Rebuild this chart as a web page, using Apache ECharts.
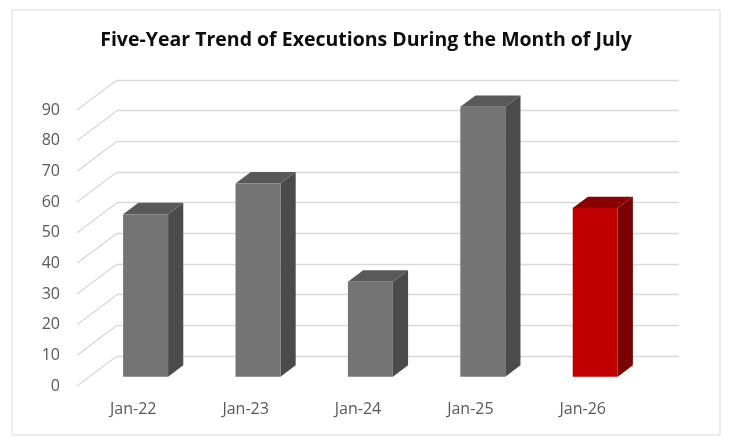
<!DOCTYPE html>
<html>
<head>
<meta charset="utf-8">
<script src="https://cdn.jsdelivr.net/npm/echarts@6/dist/echarts.min.js"></script>
<style>
  html, body { margin: 0; padding: 0; background: #fff; }
  #chart { width: 732px; height: 442px; }
</style>
</head>
<body>
<div id="chart"></div>
<script>
// chart data
const years = ['Jan-22', 'Jan-23', 'Jan-24', 'Jan-25', 'Jan-26'];
const executions = [53, 63, 31, 88, 55];
const yTicks = [0, 10, 20, 30, 40, 50, 60, 70, 80, 90];

// fake 3d settings (pixels)
const depth = [40, -30];
const grayFaces = { front: '#747474', side: '#4b4b4b', top: '#595959' };
const redFaces = { front: '#c00000', side: '#7a0000', top: '#8b0000' };

const chart = echarts.init(document.getElementById('chart'));

// diagonal floor/wall lines at each tick
function renderDiagonal(params, api) {
    const y = api.coord([0, api.value(1)])[1];
    const x0 = params.coordSys.x;
    return {
        type: 'line',
        shape: { x1: x0, y1: y, x2: x0 + depth[0], y2: y + depth[1] },
        style: { stroke: '#d9d9d9', lineWidth: 1.3 }
    };
}

// 3d looking bar: front, side and top faces
function renderBar(params, api) {
    const idx = api.value(0);
    const base = api.coord([idx, 0]);
    const top = api.coord([idx, api.value(1)]);
    const band = api.size([1, 0])[0];
    const w = band * 0.4;
    // bar sits a bit back from the front of the floor
    const ox = depth[0] * 0.31, oy = depth[1] * 0.31;
    const dx = depth[0] * 0.38, dy = depth[1] * 0.38;
    const x1 = base[0] + ox - w / 2;
    const x2 = x1 + w;
    const yb = base[1] + oy;
    const yt = top[1] + oy;
    const faces = idx === years.length - 1 ? redFaces : grayFaces;
    return {
        type: 'group',
        children: [
            {
                type: 'polygon',
                shape: { points: [[x2, yb], [x2 + dx, yb + dy], [x2 + dx, yt + dy], [x2, yt]] },
                style: { fill: faces.side }
            },
            {
                type: 'polygon',
                shape: { points: [[x1, yt], [x2, yt], [x2 + dx, yt + dy], [x1 + dx, yt + dy]] },
                style: { fill: faces.top }
            },
            {
                type: 'rect',
                shape: { x: x1, y: yt, width: w, height: yb - yt },
                style: { fill: faces.front }
            }
        ]
    };
}

const option = {
    backgroundColor: '#fff',
    animation: false,
    title: {
        text: 'Five-Year Trend of Executions During the Month of July',
        left: 'center',
        top: 25,
        textStyle: { fontFamily: 'Open Sans', fontWeight: 'bold', fontSize: 19.5, color: '#0d0d0d' }
    },
    graphic: [{
        type: 'rect',
        shape: { x: 12, y: 10, width: 708, height: 425 },
        style: { fill: 'none', stroke: '#d9d9d9', lineWidth: 1 },
        silent: true
    }],
    grid: [
        { left: 77, right: 93, top: 110, bottom: 56 },   // front plane
        { left: 117, right: 53, top: 80, bottom: 86 }    // back wall
    ],
    xAxis: [
        {
            type: 'category', gridIndex: 0, data: years,
            axisLine: { show: false }, axisTick: { show: false },
            axisLabel: { margin: 15, fontFamily: 'Open Sans', fontSize: 16, color: '#595959' }
        },
        { type: 'category', gridIndex: 1, data: years, show: false }
    ],
    yAxis: [
        {
            type: 'value', gridIndex: 0, min: 0, max: 90, interval: 10,
            axisLine: { show: false }, axisTick: { show: false }, splitLine: { show: false },
            axisLabel: { margin: 17, fontFamily: 'Open Sans', fontSize: 16, color: '#595959' }
        },
        {
            type: 'value', gridIndex: 1, min: 0, max: 90, interval: 10,
            axisLine: { show: false }, axisTick: { show: false }, axisLabel: { show: false },
            splitLine: { lineStyle: { color: '#d9d9d9', width: 1.3 } }
        }
    ],
    series: [
        {
            type: 'custom',
            xAxisIndex: 0, yAxisIndex: 0,
            renderItem: renderDiagonal,
            data: yTicks.map(v => [0, v]),
            silent: true,
            z: 1
        },
        {
            type: 'custom',
            xAxisIndex: 0, yAxisIndex: 0,
            renderItem: renderBar,
            data: executions.map((v, i) => [i, v]),
            z: 5
        }
    ]
};

chart.setOption(option);
</script>
</body>
</html>
